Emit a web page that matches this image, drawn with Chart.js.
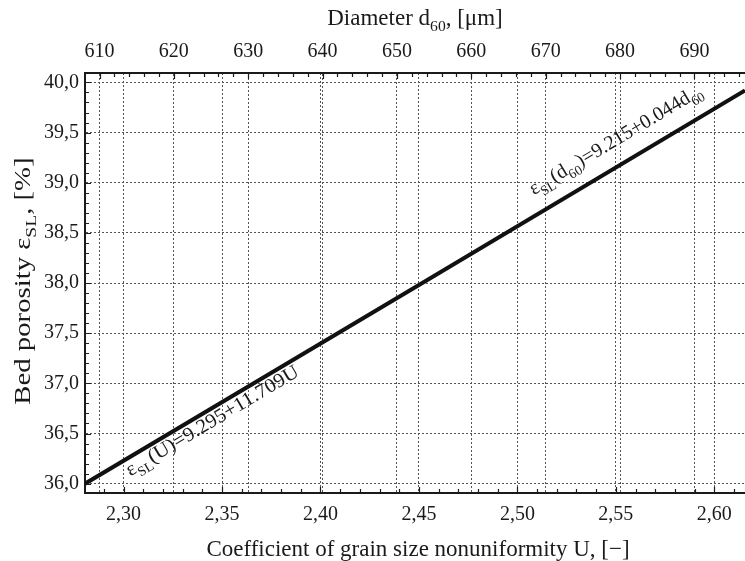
<!DOCTYPE html>
<html>
<head>
<meta charset="utf-8">
<script src="https://cdn.jsdelivr.net/npm/chart.js@4"></script>
<style>
  html, body { margin: 0; padding: 0; background: #fff; }
  #wrap { width: 745px; height: 561px; }
</style>
</head>
<body>
<div id="wrap"><canvas id="chart" width="745" height="561"></canvas></div>
<script>
// Data
const uValues = [2.2804, 2.45, 2.6156];        // coefficient of nonuniformity U
const porosity = [36.0, 37.98, 39.92];          // bed porosity, %
const uTicks = [2.30, 2.35, 2.40, 2.45, 2.50, 2.55, 2.60];
const dTicks = [610, 620, 630, 640, 650, 660, 670, 680, 690];
const porosityTicks = [36.0, 36.5, 37.0, 37.5, 38.0, 38.5, 39.0, 39.5, 40.0];
const uRange = [2.2804, 2.6156];
const dRange = [608.05, 696.8];
const porosityRange = [35.907, 40.094];

const serif = "'Liberation Serif', 'DejaVu Serif', serif";
const ink = "#1a1a1a";

const comma = (v, d) => v.toFixed(d).replace(".", ",");

// draw text made of [text, isSub] parts at baseline y; stretch widens along the text
function drawRich(ctx, parts, x, y, size, align, stretch) {
    stretch = stretch || 1;
    const widths = parts.map(([t, sub]) => {
        ctx.font = (sub ? size * 0.68 : size) + "px " + serif;
        return ctx.measureText(t).width;
    });
    const total = widths.reduce((a, b) => a + b, 0);
    ctx.save();
    ctx.translate(x, y);
    ctx.scale(stretch, 1);
    let cx = align === "center" ? -total / 2 : 0;
    ctx.textAlign = "left";
    ctx.textBaseline = "alphabetic";
    parts.forEach(([t, sub], i) => {
        ctx.font = (sub ? size * 0.68 : size) + "px " + serif;
        ctx.fillText(t, cx, sub ? size * 0.28 : 0);
        cx += widths[i];
    });
    ctx.restore();
}

const decor = {
    id: "decor",
    afterDraw(chart) {
        const ctx = chart.ctx;
        const area = chart.chartArea;
        const sx = chart.scales.x, sx2 = chart.scales.x2, sy = chart.scales.y;
        ctx.save();
        ctx.strokeStyle = ink;
        ctx.lineWidth = 1.2;

        // inward tick marks (minor + major)
        ctx.beginPath();
        for (let u = 2.29; u < uRange[1]; u += 0.01) {
            const major = Math.abs(u * 20 - Math.round(u * 20)) < 1e-6;
            const px = Math.round(sx.getPixelForValue(u)) + 0.5;
            ctx.moveTo(px, area.bottom);
            ctx.lineTo(px, area.bottom - (major ? 6 : 4));
        }
        for (let d = 610; d < dRange[1]; d += 2) {
            const major = d % 10 === 0;
            const px = Math.round(sx2.getPixelForValue(d)) + 0.5;
            ctx.moveTo(px, area.top);
            ctx.lineTo(px, area.top + (major ? 6 : 4));
        }
        for (let p = 36.0; p < porosityRange[1]; p += 0.1) {
            const major = Math.abs(p * 2 - Math.round(p * 2)) < 1e-6;
            const py = Math.round(sy.getPixelForValue(p)) + 0.5;
            ctx.moveTo(area.left, py);
            ctx.lineTo(area.left + (major ? 6 : 4), py);
        }
        ctx.stroke();

        // axis titles
        ctx.fillStyle = ink;
        drawRich(ctx, [["Diameter d", false], ["60", true], [", [\u03bcm]", false]], 415, 25, 23, "center");
        drawRich(ctx, [["Coefficient of grain size nonuniformity U, [\u2212]", false]], 418, 556, 23, "center");
        ctx.save();
        ctx.translate(30, 281);
        ctx.rotate(-Math.PI / 2);
        drawRich(ctx, [["Bed porosity \u03b5", false], ["SL", true], [", [%]", false]], 0, 0, 23, "center", 1.25);
        ctx.restore();

        // equation labels along the line
        const x0 = sx.getPixelForValue(uValues[0]), y0 = sy.getPixelForValue(porosity[0]);
        const x1 = sx.getPixelForValue(uValues[uValues.length - 1]);
        const y1 = sy.getPixelForValue(porosity[porosity.length - 1]);
        const ang = Math.atan2(y1 - y0, x1 - x0);
        const onLine = (u) => {
            const t = (sx.getPixelForValue(u) - x0) / (x1 - x0);
            return [x0 + t * (x1 - x0), y0 + t * (y1 - y0)];
        };
        ctx.save();
        ctx.beginPath();
        ctx.rect(area.left, area.top, area.right - area.left, area.bottom - area.top);
        ctx.clip();
        let [ax, ay] = onLine(2.299);
        ctx.save();
        ctx.translate(ax, ay);
        ctx.rotate(ang);
        drawRich(ctx, [["\u03b5", false], ["SL", true], ["(U)=9.295+11.709U", false]], 0, 17, 20, "left", 1.05);
        ctx.restore();
        [ax, ay] = onLine(2.513);
        ctx.save();
        ctx.translate(ax, ay);
        ctx.rotate(ang);
        drawRich(ctx, [["\u03b5", false], ["SL", true], ["(d", false], ["60", true], [")=9.215+0.044d", false], ["60", true]], 0, -18, 20, "left");
        ctx.restore();
        ctx.restore();

        ctx.restore();
    }
};

const tickFont = { family: serif, size: 20 };
const gridStyle = { color: "#555", lineWidth: 1, drawTicks: false };
const borderStyle = { color: ink, width: 2, dash: [2, 2] };

new Chart(document.getElementById("chart"), {
    type: "scatter",
    data: {
        datasets: [{
            data: uValues.map((u, i) => ({ x: u, y: porosity[i] })),
            showLine: true,
            borderColor: "#111",
            borderWidth: 4,
            pointRadius: 0,
            xAxisID: "x",
            yAxisID: "y"
        }]
    },
    options: {
        responsive: false,
        animation: false,
        layout: { padding: 0 },
        plugins: { legend: { display: false }, tooltip: { enabled: false } },
        scales: {
            x: {
                type: "linear",
                position: "bottom",
                min: uRange[0],
                max: uRange[1],
                afterBuildTicks: (s) => { s.ticks = uTicks.map(v => ({ value: v })); },
                afterFit: (s) => { s.height = 68; },
                grid: gridStyle,
                border: borderStyle,
                ticks: { font: tickFont, color: ink, padding: 10, maxRotation: 0,
                         callback: (v) => comma(v, 2) }
            },
            x2: {
                type: "linear",
                position: "top",
                min: dRange[0],
                max: dRange[1],
                afterBuildTicks: (s) => { s.ticks = dTicks.map(v => ({ value: v })); },
                afterFit: (s) => { s.height = 73; },
                grid: gridStyle,
                border: borderStyle,
                ticks: { font: tickFont, color: ink, padding: 9, maxRotation: 0,
                         callback: (v) => String(v) }
            },
            y: {
                type: "linear",
                position: "left",
                min: porosityRange[0],
                max: porosityRange[1],
                afterBuildTicks: (s) => { s.ticks = porosityTicks.map(v => ({ value: v })); },
                afterFit: (s) => { s.width = 85; },
                grid: gridStyle,
                border: borderStyle,
                ticks: { font: tickFont, color: ink, padding: 6,
                         callback: (v) => comma(v, 1) }
            }
        }
    },
    plugins: [decor]
});
</script>
</body>
</html>
